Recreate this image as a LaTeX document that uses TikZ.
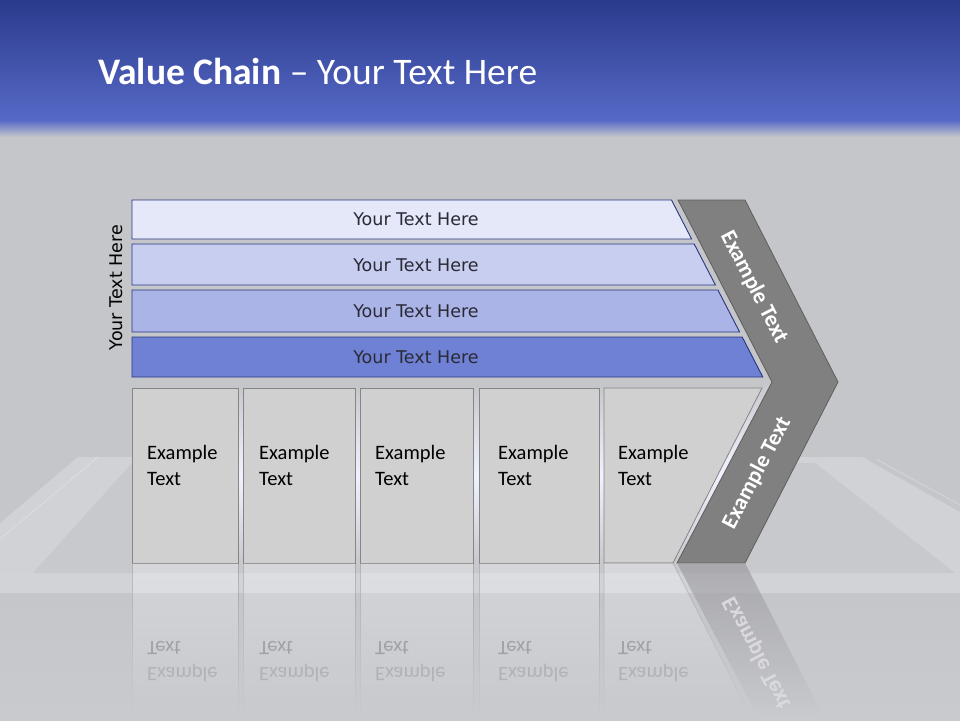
\documentclass[tikz,border=0pt]{standalone}
\usepackage{fontspec}
\setmainfont{Carlito}
\newfontfamily\verdfont{DejaVu Sans}
\usetikzlibrary{fadings}
\definecolor{bg}{HTML}{C5C6CA}
\definecolor{floorlow}{HTML}{C9CACE}
\definecolor{trayl}{HTML}{D1D2D6}
\definecolor{trayd}{HTML}{C8C9CD}
\definecolor{hdtop}{HTML}{2B3A8C}
\definecolor{hdbot}{HTML}{5669C6}
\definecolor{barline}{HTML}{283680}
\definecolor{barA}{HTML}{E4E8F8}
\definecolor{barB}{HTML}{C8CEF0}
\definecolor{barC}{HTML}{AAB4E6}
\definecolor{barD}{HTML}{6F81D4}
\definecolor{bartxt}{HTML}{2A2A36}
\definecolor{boxfill}{HTML}{D0D0D0}
\definecolor{boxline}{HTML}{858585}
\definecolor{chevfill}{HTML}{808080}
\definecolor{chevline}{HTML}{5E5E5E}
\definecolor{glow}{HTML}{F0F2FF}
\definecolor{gapgray}{HTML}{C8C9CE}
\definecolor{reftxtA}{HTML}{A0A1A7}
\definecolor{reftxtB}{HTML}{B1B2B7}
\definecolor{refchev}{HTML}{9C9CA0}
\definecolor{refchevtxt}{HTML}{DADADE}
\tikzfading[name=fadedown, top color=transparent!0, bottom color=transparent!100]
\tikzset{
  barshape/.style={draw=barline, line width=0.9pt},
  boxshape/.style={draw=boxline, fill=boxfill, line width=0.8pt},
  chevshape/.style={draw=chevline, fill=chevfill, line width=0.8pt},
  bartext/.style={font=\verdfont\fontsize{17.5}{21}\selectfont, text=bartxt, inner sep=0pt},
  sidetext/.style={font=\verdfont\fontsize{17.5}{21}\selectfont, text=black, inner sep=0pt, rotate=90},
  boxtext/.style={font=\fontsize{20.5}{26}\selectfont, text=black, inner sep=0pt, anchor=base west},
  chevtext/.style={font=\bfseries\fontsize{22.5}{26}\selectfont, text=white, inner sep=0pt},
  reftextA/.style={font=\fontsize{20.5}{26}\selectfont, text=reftxtA, inner sep=0pt, anchor=base west, yscale=-1},
  reftextB/.style={font=\fontsize{20.5}{26}\selectfont, text=reftxtB, inner sep=0pt, anchor=base west, yscale=-1},
  refbox/.style={fill=white, fill opacity=0.28, draw=boxline, draw opacity=0.45, line width=0.7pt, path fading=fadedown},
  gapglow/.style={top color=gapgray, bottom color=gapgray, middle color=glow},
}
\begin{document}
\begin{tikzpicture}[x=1pt,y=-1pt]
\useasboundingbox (0,0) rectangle (960,720);
% background
\fill[bg] (0,0) rectangle (960,720);
\shade[top color=bg, bottom color=floorlow] (0,593) rectangle (960,720);
% tray
\fill[trayl] (78,457) -- (862,457) -- (960,512) -- (960,593) -- (0,593) -- (0,523) -- cycle;
\fill[trayd] (132,463) -- (815,463) -- (955,573) -- (33,573) -- cycle;
\draw[white, opacity=0.22, line width=1pt] (98,457) -- (0,539);
\draw[white, opacity=0.22, line width=1pt] (876,459) -- (960,505);
\fill[white, opacity=0.04] (0,573) rectangle (960,593);
% header
\shade[top color=hdtop, bottom color=hdbot] (0,0) rectangle (960,120);
\shade[top color=hdbot, bottom color=bg] (0,120) rectangle (960,137);
\node[anchor=base west, inner sep=0pt, text=white, font=\fontsize{37.5}{42}\selectfont] (title) at (98,84) {\textbf{Value Chain} – Your Text Here};

% bars
\fill[barA] (132,200) -- (671.5,200) -- (691.6,239) -- (132,239) -- cycle;
\draw[barshape] (132,200) -- (671.5,200) -- (691.6,239) -- (132,239) -- cycle;
\fill[barB] (132,244) -- (694.2,244) -- (715.4,285) -- (132,285) -- cycle;
\draw[barshape] (132,244) -- (694.2,244) -- (715.4,285) -- (132,285) -- cycle;
\fill[barC] (132,290) -- (717.9,290) -- (739.6,332) -- (132,332) -- cycle;
\draw[barshape] (132,290) -- (717.9,290) -- (739.6,332) -- (132,332) -- cycle;
\fill[barD] (132,337) -- (742.2,337) -- (762.8,377) -- (132,377) -- cycle;
\draw[barshape] (132,337) -- (742.2,337) -- (762.8,377) -- (132,377) -- cycle;
\node[bartext] (t1) at (416,219.5) {Your Text Here};
\node[bartext] (t2) at (416,265) {Your Text Here};
\node[bartext] (t3) at (416,311) {Your Text Here};
\node[bartext] (t4) at (416,357) {Your Text Here};
\node[sidetext] (side) at (116,287.5) {Your Text Here};

% gap glows
\shade[gapglow] (238.5,388) rectangle (242.5,563);
\shade[gapglow] (355.5,388) rectangle (359.5,563);
\shade[gapglow] (473.5,388) rectangle (478.5,563);
\shade[gapglow] (599.5,388) rectangle (603.5,563);
\shade[gapglow] (763,386) -- (771,383) -- (678,563) -- (673,563) -- cycle;

% boxes
\draw[boxshape] (132,388) rectangle (238,563);
\draw[boxshape] (243,388) rectangle (355,563);
\draw[boxshape] (360,388) rectangle (473,563);
\draw[boxshape] (479,388) rectangle (599,563);
\draw[boxshape] (604,388) -- (762,388) -- (673,563) -- (604,563) -- cycle;
\node[boxtext] (e1) at (147,459) {Example};
\node[boxtext] (x1) at (147,485) {Text};
\node[boxtext] (e2) at (259,459) {Example};
\node[boxtext] (x2) at (259,485) {Text};
\node[boxtext] (e3) at (375,459) {Example};
\node[boxtext] (x3) at (375,485) {Text};
\node[boxtext] (e4) at (498,459) {Example};
\node[boxtext] (x4) at (498,485) {Text};
\node[boxtext] (e5) at (618,459) {Example};
\node[boxtext] (x5) at (618,485) {Text};

% chevron
\draw[chevshape] (678,200) -- (745,200) -- (838,382) -- (745,563) -- (677,563) -- (772,382) -- cycle;
\node[chevtext, rotate=-62.7] (ch1) at (754,287) {Example Text};
\node[chevtext, rotate=62.3] (ch2) at (757,473) {Example Text};

% reflections
\path[refbox] (132,563) rectangle (238,715);
\path[refbox] (243,563) rectangle (355,715);
\path[refbox] (360,563) rectangle (473,715);
\path[refbox] (479,563) rectangle (599,715);
\path[refbox] (604,563) -- (673,563) -- (750,715) -- (604,715) -- cycle;
\fill[refchev, opacity=0.7, path fading=fadedown] (677,563) -- (745,563) -- (823,715) -- (757,715) -- cycle;
\node[reftextB] (re1) at (147,667) {Example};
\node[reftextA] (rx1) at (147,641) {Text};
\node[reftextB] (re2) at (259,667) {Example};
\node[reftextA] (rx2) at (259,641) {Text};
\node[reftextB] (re3) at (375,667) {Example};
\node[reftextA] (rx3) at (375,641) {Text};
\node[reftextB] (re4) at (498,667) {Example};
\node[reftextA] (rx4) at (498,641) {Text};
\node[reftextB] (re5) at (618,667) {Example};
\node[reftextA] (rx5) at (618,641) {Text};
\node[chevtext, text=refchevtxt, rotate=-62.3, yscale=-1] (rch) at (757,653) {Example Text};
\end{tikzpicture}
\end{document}
